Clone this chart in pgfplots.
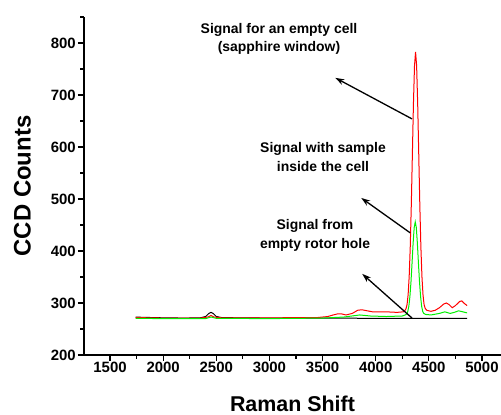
\documentclass[border=0pt]{standalone}
\usepackage{pgfplots}
\pgfplotsset{compat=1.18}
\usepackage{fontspec}
\setmainfont{Liberation Sans}
\usetikzlibrary{arrows.meta}
\definecolor{myred}{RGB}{255,0,0}
\definecolor{mygreen}{RGB}{0,240,0}
\begin{document}
\begin{tikzpicture}
\begin{axis}[
  at={(0,0)}, anchor=south west,
  scale only axis, width=417bp, height=338bp,
  xmin=1255, xmax=5179, ymin=200, ymax=850,
  axis x line=bottom, axis y line=left,
  axis line style={-, line width=1.4bp, draw=black},
  xtick={1500,2000,...,5000}, ytick={200,300,...,800},
  minor xtick={1250,1750,...,5250}, minor ytick={250,350,...,850},
  tick align=outside,
  major tick length=6bp, minor tick length=3.5bp,
  tick style={line width=1.2bp, draw=black},
  every major tick/.append style={draw=black, line width=1.3bp},
  scaled ticks=false,
  /pgf/number format/1000 sep={},
  /pgf/number format/assume math mode=true,
  ticklabel style={font=\fontsize{15}{16}\selectfont\bfseries},
  yticklabel style={inner sep=0pt, anchor=east, xshift=-2bp},
  xticklabel style={inner sep=0pt, anchor=north, yshift=-1bp},
  xlabel={Raman Shift}, ylabel={CCD Counts},
  xlabel style={at={(axis description cs:0.5,-0.1686)}, anchor=base, inner sep=0pt, font=\fontsize{21.5}{24}\selectfont\bfseries},
  ylabel style={at={(axis description cs:-0.1475,0.5)}, anchor=center, inner sep=0pt, font=\fontsize{24}{26}\selectfont\bfseries},
  clip=false,
]
% empty rotor hole (black)
\addplot[black, line width=1bp] coordinates {
(1740,273) (1800,272.5) (2000,271.5) (2200,271) (2350,271.5) (2400,274) (2430,280)
(2450,282) (2470,280) (2500,274) (2550,272) (2700,271.5) (3000,271) (3500,271)
(4000,270.5) (4500,270.5) (4860,270.5)};
% empty cell (red)
\addplot[myred, line width=1bp] coordinates {
(1740,272) (2000,271) (2350,271) (2420,273) (2450,276) (2480,273) (2550,271.5)
(3000,271.5) (3450,272) (3550,274) (3600,277) (3640,279) (3680,279) (3720,277)
(3780,280) (3830,286) (3870,287) (3920,285) (3970,283) (4100,283) (4200,282)
(4260,283) (4270,284) (4285,289) (4295,297) (4305,316) (4315,351) (4325,408)
(4335,489) (4345,586) (4355,683) (4365,756) (4375,783) (4385,756) (4395,683)
(4405,586) (4415,489) (4425,408) (4435,351) (4445,316) (4455,297) (4465,290)
(4480,286) (4520,284) (4560,286) (4600,291) (4640,298) (4665,300) (4690,297)
(4720,291) (4750,295) (4790,303) (4810,304) (4835,299) (4860,295)};
% sample inside the cell (green)
\addplot[mygreen, line width=1bp] coordinates {
(1740,270.5) (2000,270) (2400,270) (2450,273) (2500,270.5) (3000,270) (3500,271)
(3600,272) (3700,273) (3850,277) (3950,275) (4100,274) (4250,275) (4277,277)
(4292,279) (4302,284) (4312,294) (4322,313) (4332,341) (4342,377) (4352,415)
(4362,445) (4372,456) (4382,445) (4392,415) (4402,377) (4412,341) (4422,313)
(4432,294) (4442,284) (4452,280) (4470,278) (4520,277) (4600,280) (4650,283)
(4700,280) (4740,282) (4780,285) (4820,283) (4860,281)};
% axis lines (reinforced)
\draw[line width=1.5bp, black] (axis description cs:0,0) -- (axis description cs:1,0);
\draw[line width=1.5bp, black] (axis description cs:0,0) -- (axis description cs:0,1);
% annotations
\draw[-{Stealth[length=9bp,width=6bp]}, line width=1.3bp] (axis cs:4342,654) -- (axis cs:3620,733);
\draw[-{Stealth[length=9bp,width=6bp]}, line width=1.3bp] (axis cs:4324,435) -- (axis cs:3864,502);
\draw[-{Stealth[length=9bp,width=6bp]}, line width=1.3bp] (axis cs:4342,271) -- (axis cs:3873,356);
\node[align=center, font=\fontsize{14}{18}\selectfont\bfseries, inner sep=0pt] at (axis cs:3090,808) {Signal for an empty cell\\(sapphire window)};
\node[align=center, font=\fontsize{14}{19}\selectfont\bfseries, inner sep=0pt] at (axis cs:3504,580) {Signal with sample\\inside the cell};
\node[align=center, font=\fontsize{14}{19}\selectfont\bfseries, inner sep=0pt] at (axis cs:3429,430) {Signal from\\empty rotor hole};
\end{axis}
\pgfresetboundingbox
\path[use as bounding box] (-84bp,-60bp) rectangle (417bp,355bp);
\end{tikzpicture}
\end{document}
